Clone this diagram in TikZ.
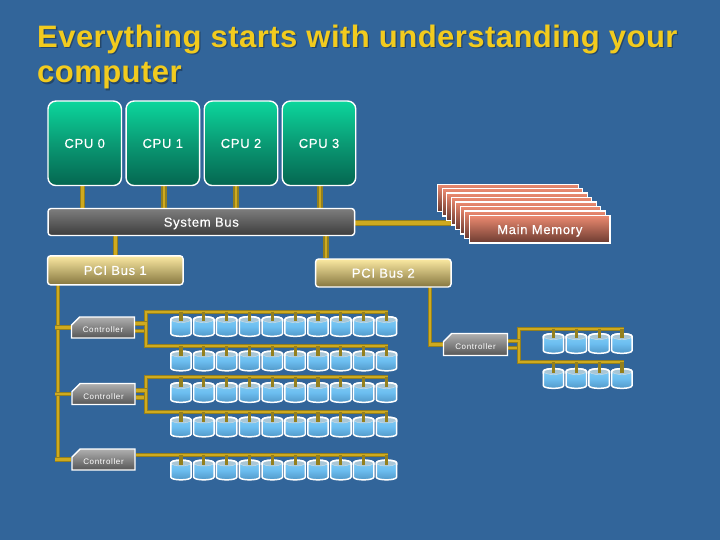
\documentclass[tikz,border=0pt]{standalone}
\usepackage{fontspec}
\setmainfont{Liberation Sans}
\newfontfamily\titlefont[LetterSpace=1.5]{Liberation Sans Bold}
\newfontfamily\labelfont[LetterSpace=5.5,FakeBold=0.4]{Liberation Sans}
\newfontfamily\ctlfont[LetterSpace=8.0]{Liberation Sans}
\usetikzlibrary{backgrounds,shapes.misc}
\definecolor{bgblue}{HTML}{32659A}
\definecolor{titleyellow}{HTML}{F2CB1E}
\definecolor{titleshadow}{HTML}{24466A}
\definecolor{busdark}{HTML}{94801E}
\definecolor{busgold}{HTML}{CFAA1E}
\definecolor{cputop}{HTML}{0CD69C}
\definecolor{cpumid}{HTML}{0A9A74}
\definecolor{cpubot}{HTML}{046650}
\definecolor{systop}{HTML}{7E7E7E}
\definecolor{sysbot}{HTML}{3C3C3C}
\definecolor{ctltop}{HTML}{B0B0B0}
\definecolor{ctlbot}{HTML}{565656}
\definecolor{pcitop}{HTML}{FBE9A2}
\definecolor{pcibot}{HTML}{85763F}
\definecolor{memtop}{HTML}{EC8A70}
\definecolor{membot}{HTML}{6A3A30}
\definecolor{diskhi}{HTML}{86CFF6}
\definecolor{diskmid}{HTML}{6CBEF0}
\definecolor{disklo}{HTML}{4F94C4}
\definecolor{diskcap}{HTML}{A9C6D6}
\tikzset{
  box/.style={draw=white,line width=1.4pt,inner sep=0pt,text=white,text height=9.3pt,text depth=0pt,font=\labelfont\fontsize{13}{14}\selectfont},
  cpubox/.style={box,rounded corners=8pt,minimum width=73.5pt,minimum height=84.5pt,top color=cputop,bottom color=cpubot,middle color=cpumid},
  sysbox/.style={box,rounded corners=3pt,minimum width=306.5pt,minimum height=27pt,top color=systop,bottom color=sysbot},
  pcibox/.style={box,rounded corners=3pt,minimum height=28pt,top color=pcitop,bottom color=pcibot},
  membox/.style={box,minimum width=140.5pt,minimum height=27.5pt,top color=memtop,bottom color=membot},
  ctlbox/.style={draw=white,line width=1.3pt,chamfered rectangle,chamfered rectangle corners=north west,chamfered rectangle xsep=6pt,chamfered rectangle ysep=3pt,
    inner sep=0pt,text height=10.3pt,text depth=0pt,minimum height=21pt,minimum width=63pt,top color=ctltop,bottom color=ctlbot,text=white,font=\ctlfont\fontsize{8}{9}\selectfont},
  diskslot/.style={inner sep=0pt,minimum width=21pt,minimum height=20pt},
  busline/.style={draw=busdark,double=busgold,line width=1.05pt,double distance=2.2pt},
  widebus/.style={draw=busdark,double=busgold,line width=1.2pt,double distance=2.8pt},
  stubline/.style={draw=busdark,line width=3.2pt},
  disk/.style={draw=white,line width=1.5pt,top color=diskhi,bottom color=disklo,middle color=diskmid},
  disktop/.style={draw=diskcap!55!white,line width=0.4pt,fill=diskcap},
  diskrim/.style={draw=white,line width=1.5pt},
}
% a disk: named slot, drum and lid; #1 name, #2 x, #3 y centre
\newcommand{\diskat}[3]{%
  \node[diskslot] (#1) at (#2,#3) {};
  \begin{scope}[shift={(#2,#3)}]
    \path[disk] (-10.2,-7) .. controls (-10.2,-10.8) and (10.2,-10.8) .. (10.2,-7) -- (10.2,7) .. controls (10.2,10.8) and (-10.2,10.8) .. (-10.2,7) -- cycle;
    \path[disktop] (-9.6,-7) .. controls (-9.6,-10) and (9.6,-10) .. (9.6,-7) .. controls (9.6,-3) and (-9.6,-3) .. (-9.6,-7) -- cycle;
    \path[diskrim] (-10.2,-5) -- (-10.2,-7) .. controls (-10.2,-10.8) and (10.2,-10.8) .. (10.2,-7) -- (10.2,-5);
  \end{scope}
  \coordinate (#1-t) at (#2,#3-5.5);
}
\begin{document}
\begin{tikzpicture}[x=1pt,y=-1pt]
\useasboundingbox (0,0) rectangle (720,540);
\begin{scope}[on background layer]
  \fill[bgblue] (0,0) rectangle (720,540);
\end{scope}
% title
\node[anchor=base west,inner sep=0pt,text=titleshadow,font=\titlefont\fontsize{31}{33}\selectfont] (titleAs) at (38.3,48.8) {Everything starts with understanding your};
\node[anchor=base west,inner sep=0pt,text=titleshadow,font=\titlefont\fontsize{31}{33}\selectfont] (titleBs) at (38.3,84.3) {computer};
\node[anchor=base west,inner sep=0pt,text=titleyellow,font=\titlefont\fontsize{31}{33}\selectfont] (titleA) at (37,47.5) {Everything starts with understanding your};
\node[anchor=base west,inner sep=0pt,text=titleyellow,font=\titlefont\fontsize{31}{33}\selectfont] (titleB) at (37,83) {computer};
% CPUs
\node[cpubox] (cpu0) at (84.7,143.3) {CPU 0};
\node[cpubox] (cpu1) at (162.8,143.3) {CPU 1};
\node[cpubox] (cpu2) at (241,143.3) {CPU 2};
\node[cpubox] (cpu3) at (319,143.3) {CPU 3};
\node[sysbox] (sys) at (201.3,222) {System Bus};
\node[pcibox,minimum width=135.5pt,minimum height=29pt] (pci1) at (115.3,270.3) {PCI Bus 1};
\node[pcibox,minimum width=135.5pt] (pci2) at (383.3,273) {PCI Bus 2};
% memory stack
\foreach \k in {0,...,6}{
  \node[membox] (m\k) at ({508+4.5*\k},{198+4.45*\k}) {};
}
\node[membox] (mem) at (539.8,229.4) {Main Memory};
% controllers
\node[ctlbox] (c1) at (103,327.5) {Controller};
\node[ctlbox] (c2) at (103.5,394) {Controller};
\node[ctlbox] (c3) at (103.5,459.5) {Controller};
\node[ctlbox,minimum height=22pt,minimum width=64pt] (c4) at (475.5,344.5) {Controller};
% disks
\foreach \r/\y in {1/326.5,2/361,3/392.5,4/427,5/470}{
  \foreach \i in {0,...,9}{
    \diskat{d\r-\i}{181+22.83*\i}{\y}
  }
}
\foreach \r/\y in {6/343.5,7/378.5}{
  \foreach \i in {0,...,3}{
    \diskat{d\r-\i}{553.5+22.8*\i}{\y}
  }
}
% named bus points
\coordinate (r1) at (146,311.7); \coordinate (r2) at (146,346);
\coordinate (r3) at (146,377.3); \coordinate (r4) at (146,412);
\coordinate (r5) at (388,455);
\coordinate (r6) at (518.7,328.7); \coordinate (r7) at (518.7,362);
\coordinate (end) at (388,0); \coordinate (endr) at (624,0);
\coordinate (memin) at (455,223);
\coordinate (pcitap) at (58.3,285);
\coordinate (pci2tap) at (429.7,287);
\begin{scope}[on background layer]
  % CPU to system bus
  \foreach \n/\s in {cpu0/-2,cpu1/1.2,cpu2/-5,cpu3/1}{
    \draw[widebus] ([xshift=\s pt]\n.south) -- ([xshift=\s pt]\n.south |- sys.north);
  }
  \draw[widebus] (pci1.north |- sys.south) -- (pci1.north);
  \draw[widebus] ([xshift=-57.3pt]pci2.north) -- ([xshift=-57.3pt]pci2.north |- sys.south);
  \draw[widebus,double distance=3.6pt] (sys.east |- memin) -- (memin);
  % PCI 1 to its controllers
  \draw[busline] (pcitap) -- (pcitap |- c3.west) -- (c3.west);
  \draw[busline] (pcitap |- c1.west) ++(-3,0) -- (c1.west);
  \draw[busline] (pcitap |- c2.west) ++(-3,0) -- (c2.west);
  \draw[busline] (pcitap |- c3.west) ++(-3,0) -- (c3.west);
  % PCI 2 to its controller
  \draw[busline] (pci2tap) -- (pci2tap |- c4.west) -- (c4.west);
  % controllers to disk strings
  \draw[busline] ([yshift=-3.5pt]c1.east) -- ([yshift=-3.5pt]c1.east -| r1);
  \draw[busline] (end |- r1) -- (r1) -- (r1 |- c1.east);
  \draw[busline] ([yshift=4pt]c1.east) -- ([yshift=4pt]c1.east -| r2) -- (r2) -- (end |- r2);
  \draw[busline] ([yshift=-3.5pt]c2.east) -- ([yshift=-3.5pt]c2.east -| r3);
  \draw[busline] (end |- r3) -- (r3) -- (r3 |- c2.east);
  \draw[busline] ([yshift=3.5pt]c2.east) -- ([yshift=3.5pt]c2.east -| r4) -- (r4) -- (end |- r4);
  \draw[busline] (c3.east |- r5) -- (r5);
  \draw[busline] ([yshift=-3.5pt]c4.east) -- ([yshift=-3.5pt]c4.east -| r6);
  \draw[busline] (endr |- r6) -- (r6) -- (r6 |- c4.east);
  \draw[busline] ([yshift=3.5pt]c4.east) -- ([yshift=3.5pt]c4.east -| r7) -- (r7) -- (endr |- r7);
\end{scope}
% stubs
\foreach \r/\b in {1/r1,2/r2,3/r3,4/r4,5/r5}{
  \foreach \i in {0,...,9}{
    \draw[stubline] (d\r-\i-t |- \b) -- (d\r-\i-t);
  }
}
\foreach \r/\b in {6/r6,7/r7}{
  \foreach \i in {0,...,3}{
    \draw[stubline] (d\r-\i-t |- \b) -- (d\r-\i-t);
  }
}
\end{tikzpicture}
\end{document}
